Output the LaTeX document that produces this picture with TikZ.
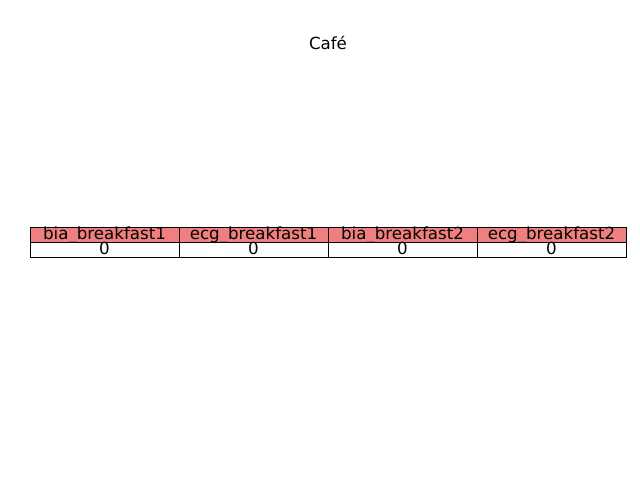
\documentclass[tikz,border=0pt]{standalone}
\usepackage{fontspec}
\setmainfont{DejaVu Sans}
\definecolor{hdr}{RGB}{240,128,128}
\begin{document}
\begin{tikzpicture}[x=0.72pt,y=-0.72pt,
  headcell/.style={draw=black,fill=hdr,line width=0.72pt,minimum width=107.28pt,minimum height=10.8pt,inner sep=0pt,anchor=north west},
  valcell/.style={draw=black,fill=white,line width=0.72pt,minimum width=107.28pt,minimum height=10.8pt,inner sep=0pt,anchor=north west},
  celltext/.style={inner sep=0pt,anchor=base,font=\fontsize{12pt}{14pt}\selectfont}]
\useasboundingbox (0,0) rectangle (640,480);
\node[celltext] (title) at (328,49) {Café};
\node[headcell] (h1) at (30,227) {};
\node[headcell] (h2) at (179,227) {};
\node[headcell] (h3) at (328,227) {};
\node[headcell] (h4) at (477,227) {};
\node[celltext] (t1) at (104.5,239.5) {bia\_breakfast1};
\node[celltext] (t2) at (253.5,239.5) {ecg\_breakfast1};
\node[celltext] (t3) at (402.5,239.5) {bia\_breakfast2};
\node[celltext] (t4) at (551.5,239.5) {ecg\_breakfast2};
\node[valcell] (v1) at (30,242) {};
\node[valcell] (v2) at (179,242) {};
\node[valcell] (v3) at (328,242) {};
\node[valcell] (v4) at (477,242) {};
\node[celltext] (z1) at (104.5,254.5) {0};
\node[celltext] (z2) at (253.5,254.5) {0};
\node[celltext] (z3) at (402.5,254.5) {0};
\node[celltext] (z4) at (551.5,254.5) {0};
\end{tikzpicture}
\end{document}
